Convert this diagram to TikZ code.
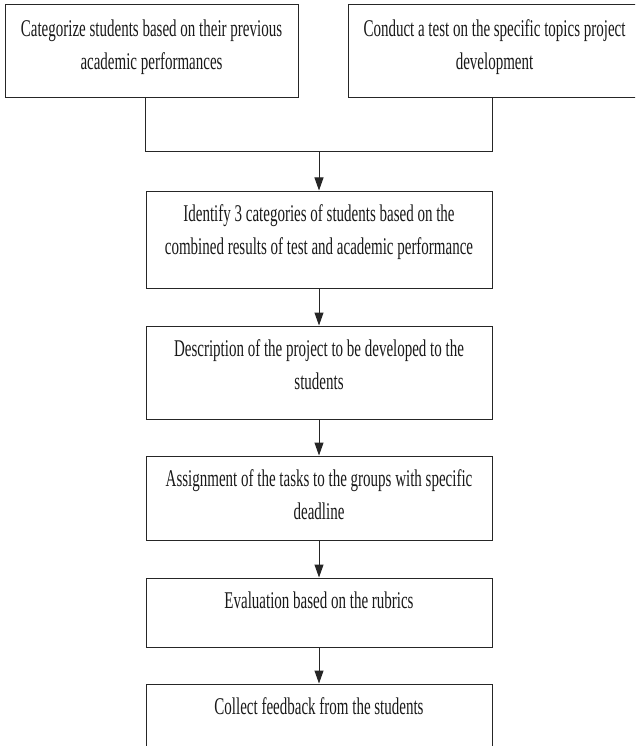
\documentclass[tikz,border=0pt]{standalone}
\usepackage{fontspec}
\newfontfamily\boxfont[FakeStretch=0.625]{Liberation Serif}
\usetikzlibrary{positioning,arrows.meta}

\begin{document}
\begin{tikzpicture}[
    x = 1pt,
    y = -1pt,
    stepbox/.style={
        draw = black!85,
        line width = 1pt,
        inner sep = 0pt,
        minimum width = 346pt
    },
    topbox/.style={
        stepbox,
        minimum width = 293pt,
        minimum height = 93pt
    },
    boxtext/.style={
        align = center,
        inner sep = 0pt,
        text = black!90,
        font = \boxfont\fontsize{24pt}{33pt}\selectfont
    },
    link/.style={
        draw = black!85,
        line width = 1pt
    },
    >={Triangle[length=13pt,width=9pt]}
]

\useasboundingbox (0,0) rectangle (635,746);
\clip (0,0) rectangle (635,746);

% first row
\node[topbox] (cat) at (151.5,51.5) {};
\node[topbox] (test) at (494.5,51.5) {};

% main column
\node[stepbox, minimum height=97pt] (ident) at (319,239.5) {};
\node[stepbox, minimum height=93pt] (desc) at (319,372.5) {};
\node[stepbox, minimum height=84pt] (assign) at (319,498) {};
\node[stepbox, minimum height=69pt] (eval) at (319,612.5) {};
\node[stepbox, minimum height=76pt] (coll) at (319,722) {};

% texts
\node[boxtext, below=15pt of cat.north] (catT)
    {Categorize students based on their previous\\academic performances};
\node[boxtext, below=15pt of test.north] (testT)
    {Conduct a test on the specific topics project\\development};
\node[boxtext, below=14pt of ident.north] (identT)
    {Identify 3 categories of students based on the\\combined results of test and academic performance};
\node[boxtext, below=14pt of desc.north] (descT)
    {Description of the project to be developed to the\\students};
\node[boxtext, below=14pt of assign.north] (assignT)
    {Assignment of the tasks to the groups with specific\\deadline};
\node[boxtext, below=14pt of eval.north] (evalT)
    {Evaluation based on the rubrics};
\node[boxtext, below=14pt of coll.north] (collT)
    {Collect feedback from the students};

% joining the first row
\coordinate (jl) at (ident.west |- 0,152);
\coordinate (jr) at (ident.east |- 0,152);
\coordinate (jm) at (ident.north |- 0,152);
\draw[link] (cat.south -| jl) -- (jl) -- (jr) -- (test.south -| jr);
\draw[link,->] (jm) -- (ident.north);

\draw[link,->] (ident) -- (desc);
\draw[link,->] (desc) -- (assign);
\draw[link,->] (assign) -- (eval);
\draw[link,->] (eval) -- (coll);

\end{tikzpicture}
\end{document}
